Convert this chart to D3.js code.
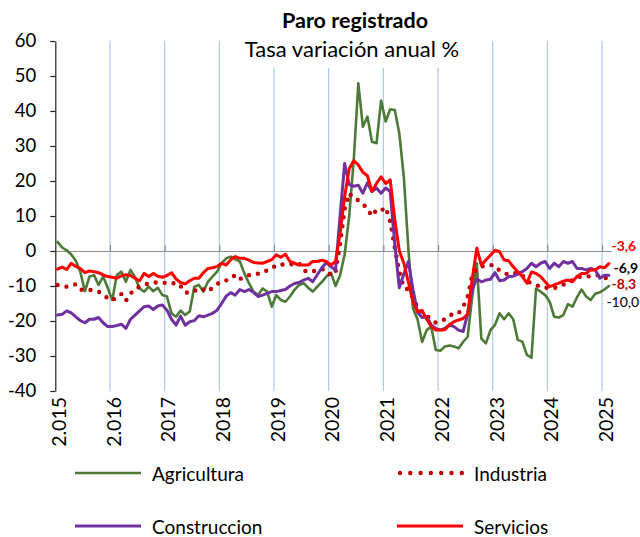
<!DOCTYPE html>
<html><head><meta charset="utf-8">
<script src="https://cdn.jsdelivr.net/npm/d3@7"></script>
<style>body{margin:0;background:#fff}svg{display:block}text{font-family:Lato,"Open Sans",sans-serif}</style>
</head><body>
<svg id="c" width="640" height="537"></svg>
<script>
// ---- data ----
const yearLabels = ["2.015","2.016","2017","2018","2019","2020","2021","2022","2023","2024","2025"];
const yTickValues = [60,50,40,30,20,10,0,-10,-20,-30,-40];
const seriesNames = ["Agricultura","Industria","Construccion","Servicios"];
const endLabels = ["-10,0","-8,3","-6,9","-3,6"];

const agricultura = [2.6,1.0,0.2,-1.0,-2.8,-6.0,-11.5,-7.3,-6.9,-9.7,-7.3,-10.5,
 -14.0,-6.9,-5.9,-8.8,-5.4,-7.5,-10.7,-11.6,-10.2,-11.5,-10.5,-12.6,
 -13.0,-17.8,-18.8,-17.0,-18.3,-17.3,-10.2,-9.7,-11.6,-8.8,-7.3,-5.9,
 -3.5,-2.1,-1.6,-2.4,-3.0,-6.4,-9.2,-11.6,-12.6,-10.7,-11.6,-15.9,
 -12.6,-14.0,-14.5,-13.0,-11.1,-9.7,-9.2,-10.5,-11.6,-10.2,-8.8,-7.3,
 -6.2,-10.0,-6.9,-1.0,10.0,26.0,47.9,35.5,38.4,31.2,30.8,43.0,
 37.0,40.5,40.3,33.6,21.0,0.3,-16.4,-19.5,-26.0,-22.6,-21.6,-28.3,
 -28.5,-27.3,-27.0,-27.3,-27.8,-26.0,-24.5,-13.0,-3.5,-25.0,-26.4,-22.6,
 -21.1,-17.8,-19.5,-17.8,-19.5,-25.4,-25.9,-29.7,-30.5,-10.7,-11.6,-12.6,
 -14.5,-18.8,-19.0,-18.3,-15.2,-15.9,-13.2,-11.0,-13.0,-14.0,-12.2,-11.8,
 -11.0,-10.0];
const industria = [-9.7,-10.0,-10.2,-9.8,-9.5,-11.0,-11.3,-11.1,-11.3,-11.6,-12.5,-13.5,
 -14.2,-13.0,-12.3,-14.2,-12.2,-10.8,-10.2,-9.6,-9.3,-9.0,-9.0,-9.0,
 -9.2,-9.4,-9.0,-10.0,-11.8,-12.0,-11.5,-10.6,-11.0,-11.6,-10.5,-9.5,
 -8.6,-8.4,-8.0,-6.8,-8.0,-7.5,-6.9,-6.9,-6.5,-6.2,-5.5,-5.0,
 -4.0,-3.8,-4.0,-3.9,-3.6,-3.5,-5.5,-6.0,-5.9,-5.3,-5.2,-5.4,
 -7.0,-6.0,2.0,12.0,16.5,15.0,14.5,13.5,12.0,10.0,11.8,11.5,
 12.5,8.5,1.0,-6.0,-10.5,-11.0,-13.5,-16.0,-17.5,-18.5,-19.5,-20.5,
 -20.0,-19.5,-18.5,-17.8,-17.8,-16.0,-13.0,-7.0,-5.0,-4.5,-4.0,-4.0,
 -4.2,-5.6,-6.2,-6.8,-6.5,-6.2,-7.0,-8.5,-9.3,-9.7,-10.2,-10.4,
 -10.8,-10.6,-10.2,-9.6,-9.0,-8.3,-7.5,-7.3,-7.3,-7.2,-7.0,-6.8,
 -7.5,-8.3];
const construccion = [-18.3,-18.1,-17.1,-17.7,-18.8,-19.9,-20.5,-19.5,-19.5,-19.0,-20.5,-21.6,
 -21.6,-21.3,-20.9,-22.1,-19.5,-18.3,-17.1,-15.9,-15.7,-16.7,-15.7,-15.4,
 -16.9,-19.5,-21.2,-18.6,-21.2,-20.2,-19.9,-18.5,-18.8,-18.3,-17.8,-16.9,
 -15.0,-12.9,-11.9,-12.6,-11.0,-11.6,-11.0,-11.8,-13.0,-12.6,-12.1,-11.6,
 -11.6,-11.3,-11.0,-10.0,-9.3,-9.0,-8.3,-7.8,-8.8,-6.8,-4.8,-3.3,
 -4.5,-5.4,10.0,25.0,19.0,18.5,18.8,16.5,19.5,17.0,18.0,16.5,
 18.0,17.0,2.0,-10.5,-6.5,-3.0,-11.0,-17.5,-19.0,-18.8,-21.1,-22.1,
 -22.6,-22.1,-21.1,-21.6,-22.6,-23.0,-18.0,-11.0,-8.0,-8.8,-8.3,-8.1,
 -6.2,-8.5,-8.3,-7.3,-7.2,-6.6,-5.9,-5.0,-3.5,-4.5,-3.5,-3.0,
 -5.0,-3.5,-4.5,-3.0,-3.5,-3.0,-5.0,-5.0,-5.4,-5.0,-5.4,-7.8,
 -6.9,-6.9];
const servicios = [-5.2,-4.6,-5.3,-3.5,-4.4,-5.0,-6.2,-5.7,-5.9,-6.2,-6.8,-7.3,
 -7.5,-7.8,-7.1,-6.8,-7.0,-7.8,-8.5,-6.4,-7.3,-6.4,-7.2,-7.5,
 -7.0,-6.2,-8.0,-9.0,-9.4,-8.5,-7.8,-7.8,-6.2,-5.0,-4.8,-4.4,
 -3.5,-4.0,-2.5,-1.6,-2.1,-2.1,-2.6,-3.3,-3.4,-3.5,-3.0,-2.5,
 -1.1,-1.8,-0.9,-3.0,-3.5,-4.0,-4.0,-4.0,-3.0,-3.0,-2.6,-3.0,
 -4.0,-3.0,5.0,15.5,23.5,25.8,24.6,22.5,21.5,17.0,19.3,21.2,
 19.3,20.3,9.0,0.0,-3.5,-9.0,-14.5,-17.3,-17.0,-19.5,-21.5,-22.6,
 -22.6,-22.5,-21.1,-20.2,-19.7,-19.3,-18.0,-8.0,0.8,-4.0,-2.6,-1.2,
 0.2,-0.2,-2.6,-2.8,-4.5,-5.9,-7.3,-9.2,-6.0,-6.4,-7.3,-8.8,
 -10.2,-9.7,-9.2,-8.6,-8.3,-8.8,-7.3,-6.4,-6.4,-5.4,-5.4,-4.5,
 -4.8,-3.6];

// ---- chart ----
const svg = d3.select("#c");
const N = agricultura.length;
const idx = d3.range(N);
const xb = d3.scaleBand().domain(idx).range([55.3, 611.2]).paddingInner(0).paddingOuter(0);
const xl = d3.scaleLinear().domain([0, N]).range([55.3, 611.2]);
const y = d3.scaleLinear().domain([-40, 60]).range([391, 41]);
const cx = i => xb(i) + xb.bandwidth() / 2;
const font = 'Lato, "Open Sans", sans-serif';

// vertical gridlines at year boundaries
const yearIdx = d3.range(12, N, 12);
svg.append("g").selectAll("line").data(yearIdx).join("line")
  .attr("x1", d => xl(d)).attr("x2", d => xl(d))
  .attr("y1", y(60)).attr("y2", y(-40))
  .attr("stroke", "#a9c9ef").attr("stroke-width", 1.2);

// white box behind the title
svg.append("rect").attr("x", 236).attr("y", 0).attr("width", 234).attr("height", 68).attr("fill", "#fff");

// zero axis with ticks above
const xAxis = d3.axisTop(xl).tickValues(yearIdx).tickSize(6).tickSizeOuter(0).tickFormat("");
const gx = svg.append("g").attr("transform", `translate(0,${y(0)})`).call(xAxis);
gx.selectAll("path,line").attr("stroke", "#8c8c8c").attr("stroke-width", 1.2);

// y axis
const yAxis = d3.axisLeft(y).tickValues(yTickValues).tickSize(5).tickSizeOuter(0).tickPadding(14).tickFormat(d => String(d));
const gy = svg.append("g").attr("transform", `translate(55.3,0)`).call(yAxis);
gy.selectAll("path,line").attr("stroke", "#222").attr("stroke-width", 1.2);
gy.selectAll("text").attr("font-size", 18.5).attr("font-family", font).attr("fill", "#000");

// x labels (rotated)
svg.append("g").selectAll("text").data(yearLabels).join("text")
  .attr("transform", (d, k) => `translate(${cx(k * 12) + 1},397) rotate(-90)`)
  .attr("text-anchor", "end").attr("dominant-baseline", "central")
  .attr("font-size", 19.5).attr("fill", "#000").text(d => d);

// series
const line = d3.line().x((d, i) => cx(i)).y(d => y(d));
const styles = [
  {data: agricultura, color: "#4e7a38", w: 2.6, dash: null},
  {data: industria, color: "#c00000", w: 4.4, dash: "0 9"},
  {data: construccion, color: "#7030a0", w: 3, dash: null},
  {data: servicios, color: "#ff0000", w: 3, dash: null}
];
styles.forEach(s => {
  svg.append("path").datum(s.data).attr("d", line).attr("fill", "none")
    .attr("stroke", s.color).attr("stroke-width", s.w)
    .attr("stroke-linejoin", "round").attr("stroke-linecap", "round")
    .attr("stroke-dasharray", s.dash);
});

// end labels
const endStyle = [
  {data: agricultura, color: "#000", bold: false, off: 15, dx: -2.5},
  {data: industria, color: "#c00000", bold: true, off: 3.5, dx: 2.5},
  {data: construccion, color: "#000", bold: true, off: -7.5, dx: 4.5},
  {data: servicios, color: "#ff0000", bold: true, off: -18.5, dx: 2.5}
];
endStyle.forEach((s, k) => {
  const v = s.data[N - 1];
  svg.append("text").attr("x", cx(N - 1) + s.dx).attr("y", y(v) + s.off)
    .attr("dominant-baseline", "central").attr("font-size", 14)
    .attr("font-weight", s.bold ? "bold" : "normal").attr("fill", s.color).text(endLabels[k]);
});

// title
svg.append("text").attr("x", 355).attr("y", 20).attr("text-anchor", "middle").attr("dominant-baseline", "central")
  .attr("font-size", 21.5).attr("font-weight", "bold").text("Paro registrado");
svg.append("text").attr("x", 352).attr("y", 48).attr("text-anchor", "middle").attr("dominant-baseline", "central")
  .attr("font-size", 22).text("Tasa variación anual %");

// legend
const legPos = [[75, 473], [397, 473], [75, 526], [397, 526]];
styles.forEach((s, k) => {
  const [lx, ly] = legPos[k];
  svg.append("line").attr("x1", lx + (s.dash ? 3 : 0)).attr("x2", lx + 66).attr("y1", ly).attr("y2", ly)
    .attr("stroke", s.color).attr("stroke-width", s.w).attr("stroke-linecap", s.dash ? "round" : "butt")
    .attr("stroke-dasharray", s.dash ? "0 10.3" : null);
  svg.append("text").attr("x", lx + 77).attr("y", ly).attr("dominant-baseline", "central")
    .attr("font-size", 19).attr("fill", "#000").text(seriesNames[k]);
});
</script>
</body></html>
